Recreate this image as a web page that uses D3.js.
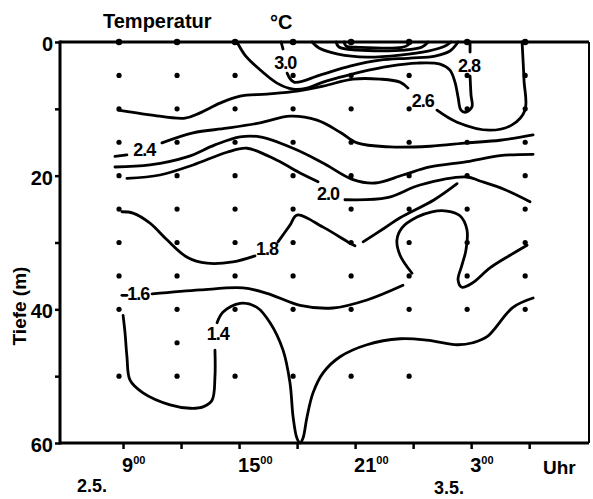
<!DOCTYPE html>
<html><head><meta charset="utf-8">
<script src="https://cdn.jsdelivr.net/npm/d3@7/dist/d3.min.js"></script>
<style>body{margin:0;background:#fff}text{font-family:"Liberation Sans",Arial,sans-serif;fill:#000}</style>
</head><body><svg id="c" width="593" height="499"></svg>
<script>
// ---- data (time in hours since 0:00 on 2.5., depth in m) ----
const stationHours = [9, 12, 15, 18, 21, 24, 27, 30];
const stationDepths = [
  [0,5,10,15,20,25,30,35,40,50],
  [0,5,10,15,20,25,30,35,40,45,50],
  [0,5,10,15,20,25,30,35,40,50],
  [0,5,10,15,20,25,30,35,40,50],
  [0,5,10,15,20,25,30,35,40,50],
  [0,5,10,15,20,25,30,35,40,50],
  [0,5,10,15,20,25,30,35,40],
  [0,5,10,15,20,25,30,35,40]
];
const xTickHours = [9, 15, 21, 27];
const xTickText = ["9", "15", "21", "3"];
const yTickValues = [0, 10, 20, 30, 40, 50, 60];
const yTickLabels = [0, 20, 40, 60];

// isolines (°C) as [hour, depth] points
const iso32a = [[18.98,0],[19.34,0.9],[20.32,1.8],[21.82,2.25],[23.53,1.95],[24.98,1.35],[25.86,0.6],[26.16,0]];
const iso32b = [[20.22,0],[20.37,0.75],[21.31,1.2],[23.79,1.2],[24.67,0.75],[24.98,0]];
const iso32c = [[20.63,0],[20.74,0.6],[21.46,0.8],[23.63,0.8],[23.94,0.45],[24.05,0]];
const iso30a = [[17.38,0],[17.48,1.05]];
const iso30b = [[17.69,4.65],[18.05,6.0],[19.39,4.95],[20.94,3.6],[22.49,2.7],[24.05,2.4],[25.34,2.1],[26.11,1.35],[26.53,0]];
const iso28a = [[15.10,0],[15.51,1.95],[16.13,3.75],[17.17,6.15],[18.0,7.05],[18.72,6.9],[19.55,6.0],[20.27,5.4],[21.46,4.5],[23.01,3.6],[24.41,3.15],[25.6,3.3],[26.11,4.2],[26.37,6.0],[26.53,8.25],[26.68,10.2],[26.94,10.5],[27.25,9.7],[27.2,7.95],[27.15,5.1]];
const iso28b = [[27.15,1.5],[27.15,0]];
const iso26a = [[8.95,10.2],[10.6,10.9],[12.41,11.4],[13.19,10.6],[14.22,9.15],[15.26,8.1],[16.65,7.8],[18.2,7.35],[19.55,6.6],[21.1,5.55],[22.49,5.55],[23.53,6.0],[23.94,6.9]];
const iso26b = [[25.44,10.2],[26.48,12.0],[28.18,13.2],[29.32,12.4],[29.99,10.2],[29.94,5.7],[29.84,0]];
const iso24a = [[8.79,17.1],[9.41,16.9]];
const iso24b = [[11.22,15.1],[12.83,13.6],[14.58,12.9],[16.29,12.1],[17.84,11.1],[19.24,11.7],[20.43,13.5],[21.31,15.1],[23.01,15.7],[25.08,15.6],[26.99,15.1],[28.7,14.7],[30.41,13.9]];
const iso22 = [[8.79,18.7],[10.6,18.4],[12.52,17.2],[13.96,15.4],[15.26,14.2],[16.29,14.2],[18.0,15.9],[19.55,18.1],[21.1,20.6],[22.24,21.1],[23.68,19.9],[25.08,18.7],[26.99,17.9],[28.7,17.0],[30.41,16.8]];
const iso20a = [[9.41,20.4],[11.12,19.9],[12.83,18.4],[14.58,16.5],[15.62,15.9],[17.17,17.7],[18.36,19.6],[19.29,20.9]];
const iso20b = [[20.68,23.6],[22.86,23.3],[24.56,21.4],[26.99,20.2],[27.66,20.8],[28.96,22.1],[30.25,23.9]];
const iso18a = [[9.15,25.4],[9.72,25.6],[10.6,27.1],[11.48,29.6],[12.52,32.2],[13.55,33.1],[14.89,32.9],[16.03,32.0]];
const iso18b = [[17.22,29.9],[17.84,27.4],[18.2,25.9],[19.55,27.7],[20.94,30.1],[21.2,30.5]];
const iso18c = [[21.62,29.9],[22.75,27.8],[23.53,26.3],[25.3,23.6],[26.48,21.2]];
const iso16a = [[9.15,37.9],[9.41,37.9]];
const iso16b = [[10.71,37.7],[13.19,37.1],[15.41,36.8],[16.65,37.6],[18.36,39.4],[20.06,39.8],[21.82,38.6],[23.68,36.4]];
const iso16c = [[24.15,34.6],[23.53,31.9],[23.37,29.6],[23.63,27.8],[24.41,26.2],[25.18,25.4],[25.96,25.3],[26.63,26.0],[26.99,28.1],[26.94,31.1],[26.73,33.4],[26.53,35.6],[26.73,36.7],[27.25,36.1],[28.18,33.8],[29.22,31.9],[30.1,30.4]];
const iso14a = [[9.21,40.9],[9.31,43.5],[9.41,47.1],[9.57,50.6],[10.24,52.5],[11.64,54.3],[12.67,54.8],[13.34,54.6],[13.81,53.6],[13.96,50.1],[13.96,46.1]];
const iso14b = [[14.07,42.0],[14.38,40.4],[15.26,39.1],[16.13,39.7],[16.81,42.0],[17.48,46.1],[17.84,51.0],[18.0,56.1],[18.2,59.3],[18.36,60],[18.51,59.3],[18.72,56.1],[19.03,52.5],[19.55,49.5],[20.43,47.1],[21.82,45.3],[23.53,44.4],[24.92,44.6],[26.48,45.3],[27.3,45.0],[28.03,44.1],[29.37,39.7],[30.41,38.3]];
const isolines = [iso32a, iso32b, iso32c, iso30a, iso30b, iso28a, iso28b, iso26a, iso26b, iso24a, iso24b, iso22, iso20a, iso20b, iso18a, iso18b, iso18c, iso16a, iso16b, iso16c, iso14a, iso14b];

const labelText = ["3.0", "2.8", "2.6", "2.4", "2.0", "1.8", "1.6", "1.4"];
const labelAt = [[17.6,3.0],[27.1,3.45],[24.7,8.7],[10.3,16.0],[19.8,22.6],[16.65,30.8],[10.0,37.6],[14.1,43.5]];

// ---- drawing ----
const svg = d3.select("#c");
const x = d3.scaleLinear().domain([6, 33.3]).range([61, 589]);
const y = d3.scaleLinear().domain([0, 60]).range([42, 443]);

// frame
const X0 = 60, X1 = 589, Y0 = y(0), Y1 = y(60);
svg.append("line").attr("x1",X0).attr("x2",X1).attr("y1",Y0).attr("y2",Y0).attr("stroke","#000").attr("stroke-width",3);
svg.append("line").attr("x1",X0).attr("x2",X1).attr("y1",Y1).attr("y2",Y1).attr("stroke","#000").attr("stroke-width",3);
svg.append("line").attr("x1",X0).attr("x2",X0).attr("y1",Y0-1.5).attr("y2",Y1+1.5).attr("stroke","#000").attr("stroke-width",3);
svg.append("line").attr("x1",X1).attr("x2",X1).attr("y1",Y0).attr("y2",Y1).attr("stroke","#000").attr("stroke-width",2);

// axes ticks
const gx = svg.append("g").attr("transform",`translate(4,${Y1})`)
  .call(d3.axisBottom(x).tickValues(stationHours).tickSize(6).tickFormat(""));
gx.select(".domain").remove();
gx.selectAll("line").attr("stroke","#000").attr("stroke-width",2.5);
const gy = svg.append("g").attr("transform",`translate(${X0},0)`)
  .call(d3.axisLeft(y).tickValues(yTickValues).tickSize(5).tickFormat(""));
gy.select(".domain").remove();
gy.selectAll("line").attr("stroke","#000").attr("stroke-width",2.5);

// y labels
svg.selectAll(".yl").data(yTickLabels).enter().append("text")
  .attr("x",53).attr("y",d=>y(d)+9).attr("text-anchor","end")
  .attr("font-size",20).attr("font-weight","bold").text(d=>d);
svg.append("text").attr("transform",`translate(26,${y(39.5)}) rotate(-90)`)
  .attr("text-anchor","middle").attr("font-size",19).attr("font-weight","bold").text("Tiefe (m)");

// x labels
xTickHours.forEach((h,i)=>{
  const t = svg.append("text").attr("x",x(h)+3).attr("y",472).attr("font-size",20).attr("font-weight","bold");
  t.append("tspan").text(xTickText[i]);
  t.append("tspan").attr("dy",-8).attr("font-size",11).text("00");
});
svg.append("text").attr("x",543).attr("y",474).attr("font-size",19).attr("font-weight","bold").text("Uhr");
svg.append("text").attr("x",92).attr("y",492).attr("text-anchor","middle").attr("font-size",18).attr("font-weight","bold").text("2.5.");
svg.append("text").attr("x",449).attr("y",494).attr("text-anchor","middle").attr("font-size",18).attr("font-weight","bold").text("3.5.");

// title
svg.append("text").attr("x",103).attr("y",28).attr("font-size",20).attr("font-weight","bold").text("Temperatur");
svg.append("text").attr("x",270).attr("y",29).attr("font-size",20).attr("font-weight","bold").text("°C");

// sample dots
const pts = [];
stationHours.forEach((h,i)=>stationDepths[i].forEach(d=>pts.push([h,d])));
svg.selectAll(".dot").data(pts).enter().append("circle")
  .attr("cx",d=>x(d[0])).attr("cy",d=>y(d[1])).attr("r",d=>d[1]===0?3.2:2.6).attr("fill","#000");

// isolines
const line = d3.line().x(d=>x(d[0])).y(d=>y(d[1])).curve(d3.curveCatmullRom.alpha(0.5));
svg.selectAll(".iso").data(isolines).enter().append("path")
  .attr("d",line).attr("fill","none").attr("stroke","#000").attr("stroke-width",2.8)
  .attr("stroke-linecap","round").attr("stroke-linejoin","round");

// isoline labels
svg.selectAll(".lab").data(labelText).enter().append("text")
  .attr("x",(d,i)=>x(labelAt[i][0])).attr("y",(d,i)=>y(labelAt[i][1])+7)
  .attr("text-anchor","middle").attr("font-size",18).attr("font-weight","bold")
  .attr("letter-spacing",-1).text(d=>d);
</script></body></html>
